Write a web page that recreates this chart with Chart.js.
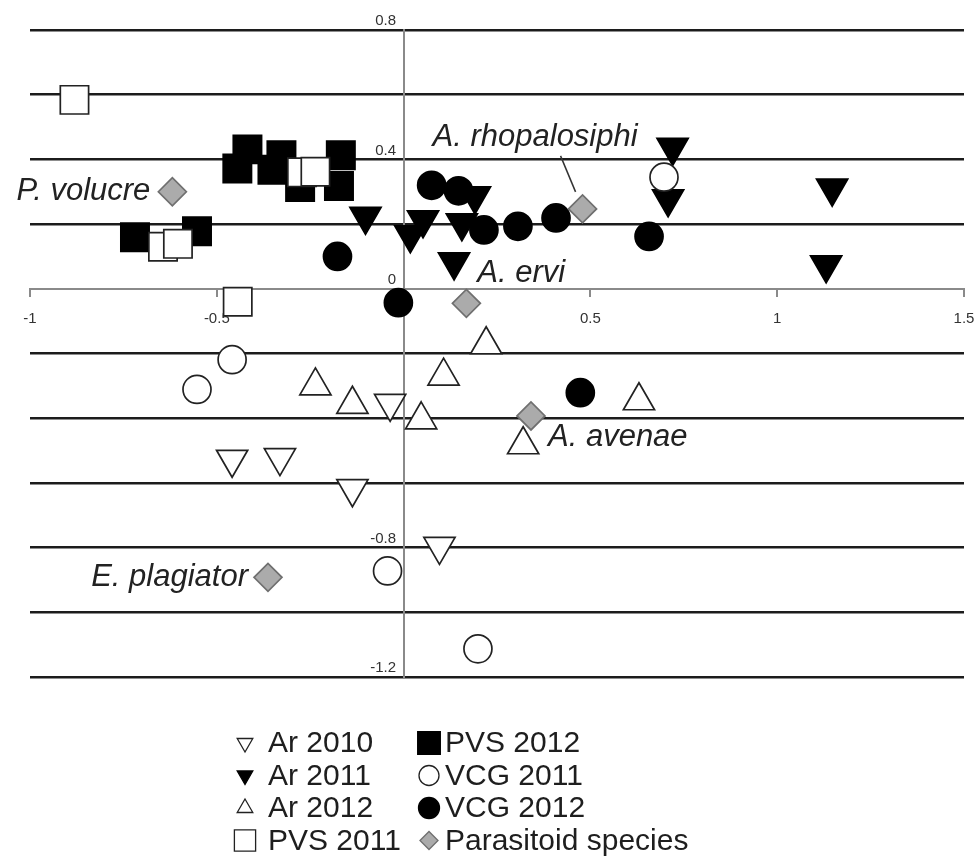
<!DOCTYPE html>
<html>
<head>
<meta charset="utf-8">
<script src="https://cdn.jsdelivr.net/npm/chart.js@4"></script>
<style>
html,body{margin:0;padding:0;background:#fff;overflow:hidden;}
#wrap{width:978px;height:857px;position:relative;}
</style>
</head>
<body>
<div id="wrap"><canvas id="c"></canvas></div>
<script>
// ---------- DATA ----------
const seriesNames = ['Ar 2010','Ar 2011','Ar 2012','PVS 2011','PVS 2012','VCG 2011','VCG 2012','Parasitoid species'];
const ar2010 = [[-0.459,-0.527],[-0.331,-0.522],[-0.137,-0.618],[-0.036,-0.354],[0.096,-0.796]];
const ar2011 = [[-0.102,0.224],[0.018,0.167],[0.052,0.213],[0.156,0.204],[0.191,0.287],[0.135,0.083],[0.720,0.437],[0.708,0.278],[1.147,0.311],[1.131,0.074]];
const ar2012 = [[-0.236,-0.300],[-0.137,-0.357],[0.047,-0.405],[0.107,-0.270],[0.221,-0.173],[0.320,-0.482],[0.630,-0.346]];
const pvs2011 = [[-0.881,0.584],[-0.444,-0.040],[-0.644,0.130],[-0.604,0.139],[-0.272,0.360],[-0.236,0.362]];
const pvs2012 = [[-0.445,0.372],[-0.418,0.431],[-0.351,0.368],[-0.327,0.413],[-0.277,0.315],[-0.168,0.413],[-0.173,0.318],[-0.719,0.159],[-0.553,0.178]];
const vcg2011 = [[-0.459,-0.219],[-0.553,-0.311],[-0.043,-0.872],[0.199,-1.113],[0.697,0.345]];
const vcg2012 = [[0.075,0.320],[0.147,0.303],[0.215,0.182],[0.306,0.193],[0.408,0.219],[0.657,0.162],[-0.177,0.100],[-0.014,-0.043],[0.473,-0.321]];
const parasitoid = [[-0.619,0.300],[0.479,0.247],[0.168,-0.045],[0.341,-0.393],[-0.363,-0.892]];
const parasitoidNames = ['P. volucre','A. rhopalosiphi','A. ervi','A. avenae','E. plagiator'];
const xTicks = [-1,-0.5,0,0.5,1,1.5];
const yTickLabelsShown = [0.8,0.4,0,-0.8,-1.2];

// ---------- STYLES ----------
const FONT = "'Liberation Sans', Arial, sans-serif";
const styles = [
  {pointStyle:'triangle', rotation:180, bg:'#ffffff', border:'#222', r:18, lr:9},
  {pointStyle:'triangle', rotation:180, bg:'#000000', border:'#000', r:18, lr:9},
  {pointStyle:'triangle', rotation:0,   bg:'#ffffff', border:'#222', r:18, lr:9},
  {pointStyle:'rect',     rotation:0,   bg:'#ffffff', border:'#222', r:20, lr:15},
  {pointStyle:'rect',     rotation:0,   bg:'#000000', border:'#000', r:20, lr:16},
  {pointStyle:'circle',   rotation:0,   bg:'#ffffff', border:'#222', r:14, lr:10},
  {pointStyle:'circle',   rotation:0,   bg:'#000000', border:'#000', r:14, lr:10.5},
  {pointStyle:'rectRot',  rotation:0,   bg:'#ababab', border:'#6f6f6f', r:14, lr:9}
];
// target plot area in pixels
const target = {left: 30, right: 964, top: 30, bottom: 677};
// drawing order (lower = on top)
const drawOrder = [7,6,5,3,4,2,1,0];
// annotation placement relative to each parasitoid marker: [dx, dyBaseline, align]
const annoPlace = [[-22,8,'right'],[-150,-63,'left'],[11,-21,'left'],[17,30,'left'],[-20,8.5,'right']];
const leader = {index:1, from:[-22,-53], to:[-7,-17]};

const allSeries = [ar2010, ar2011, ar2012, pvs2011, pvs2012, vcg2011, vcg2012, parasitoid];
const datasets = allSeries.map((s, i) => ({
  label: seriesNames[i],
  data: s.map(p => ({x:p[0], y:p[1]})),
  pointStyle: styles[i].pointStyle,
  rotation: styles[i].rotation,
  pointRadius: styles[i].r,
  pointHoverRadius: styles[i].r,
  backgroundColor: styles[i].bg,
  borderColor: styles[i].border,
  borderWidth: 1.7,
  order: drawOrder[i]
}));

// pin the plot area to the target rectangle after Chart.js lays out its boxes
const pinAreaPlugin = {
  id: 'pinArea',
  afterLayout(chart) {
    const ca = chart.chartArea;
    Object.assign(ca, target);
    ca.width = target.right - target.left;
    ca.height = target.bottom - target.top;
    const xs = chart.scales.x, ys = chart.scales.y;
    xs.left = ca.left; xs.right = ca.right; xs.width = ca.width;
    ys.top = ca.top; ys.bottom = ca.bottom; ys.height = ca.height;
    xs.configure(); ys.configure();
  }
};

const annotationsPlugin = {
  id: 'annos',
  afterDatasetsDraw(chart) {
    const ctx = chart.ctx, xs = chart.scales.x, ys = chart.scales.y;
    ctx.save();
    ctx.fillStyle = '#222';
    ctx.font = "italic 31px " + FONT;
    ctx.textBaseline = 'alphabetic';
    parasitoid.forEach((p, i) => {
      const px = xs.getPixelForValue(p[0]), py = ys.getPixelForValue(p[1]);
      const a = annoPlace[i];
      ctx.textAlign = a[2];
      ctx.fillText(parasitoidNames[i], px + a[0], py + a[1]);
    });
    const lp = parasitoid[leader.index];
    const lx = xs.getPixelForValue(lp[0]), ly = ys.getPixelForValue(lp[1]);
    ctx.strokeStyle = '#333'; ctx.lineWidth = 1.5;
    ctx.beginPath();
    ctx.moveTo(lx + leader.from[0], ly + leader.from[1]);
    ctx.lineTo(lx + leader.to[0], ly + leader.to[1]);
    ctx.stroke();
    ctx.restore();
  }
};

const legendPlugin = {
  id: 'gridLegend',
  afterDraw(chart) {
    const ctx = chart.ctx;
    const rows = [743, 775.5, 808, 840.5];
    const cols = [{mx:245, tx:268},{mx:429, tx:445}];
    ctx.save();
    ctx.font = "30px " + FONT;
    ctx.textBaseline = 'middle';
    ctx.textAlign = 'left';
    seriesNames.forEach((name, i) => {
      const c = cols[Math.floor(i / 4)], y = rows[i % 4];
      const st = styles[i];
      ctx.fillStyle = st.bg; ctx.strokeStyle = st.border; ctx.lineWidth = 1.3;
      Chart.helpers.drawPoint(ctx, {pointStyle: st.pointStyle, rotation: st.rotation, radius: st.lr, borderWidth: 1.3}, c.mx, y);
      ctx.fillStyle = '#1e1e1e';
      ctx.fillText(name, c.tx, y + 1);
    });
    ctx.restore();
  }
};

const chart = new Chart(document.getElementById('c'), {
  type: 'scatter',
  data: {datasets},
  options: {
    responsive: true,
    maintainAspectRatio: false,
    animation: false,
    devicePixelRatio: 1,
    layout: {padding: {left: 30, right: 14, top: 30, bottom: 180}},
    plugins: {legend: {display: false}, tooltip: {enabled: false}},
    scales: {
      x: {
        type: 'linear',
        position: {y: 0},
        min: -1, max: 1.5,
        afterBuildTicks: (scale) => { scale.ticks = xTicks.map(v => ({value: v})); },
        ticks: {
          callback: (v) => v === 0 ? '' : String(v),
          font: {family: FONT, size: 15},
          color: '#333',
          padding: 14,
          autoSkip: false,
          maxRotation: 0
        },
        grid: {drawOnChartArea: false, drawTicks: true, tickLength: 7, color: '#8a8a8a', lineWidth: 2},
        border: {display: true, color: '#8a8a8a', width: 2}
      },
      y: {
        type: 'linear',
        position: {x: 0},
        min: -1.2, max: 0.8,
        ticks: {
          stepSize: 0.2,
          autoSkip: false,
          labelOffset: -9,
          font: {family: FONT, size: 15},
          color: '#333',
          callback: (v) => {
            const k = Math.round(v * 10);
            return yTickLabelsShown.some(t => Math.round(t * 10) === k) ? String(k / 10) + '\u2002' : '';
          }
        },
        grid: {
          drawTicks: false,
          color: (c) => (c.tick && Math.round(c.tick.value * 10) === 0) ? 'rgba(0,0,0,0)' : '#1c1c1c',
          lineWidth: 2.5
        },
        border: {display: true, color: '#8a8a8a', width: 2}
      }
    }
  },
  plugins: [pinAreaPlugin, annotationsPlugin, legendPlugin]
});
</script>
</body>
</html>
